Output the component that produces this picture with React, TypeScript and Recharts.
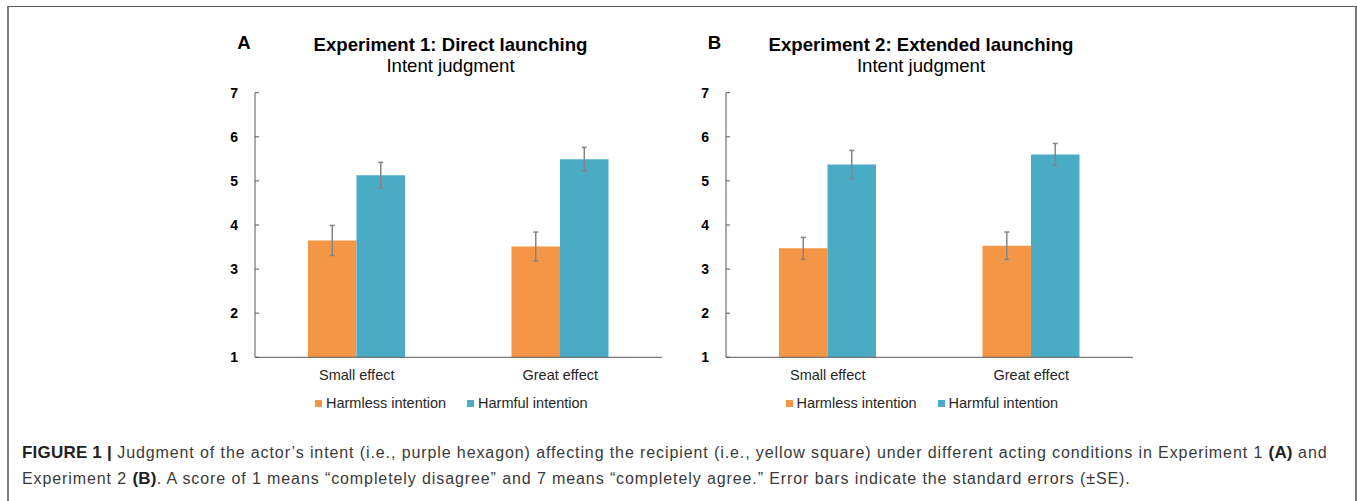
import React from 'react';
import { BarChart, Bar, XAxis, YAxis, ErrorBar, Legend } from 'recharts';

const categories = ['Small effect', 'Great effect'];
const seriesNames = ['Harmless intention', 'Harmful intention'];
const yTicks = [1, 2, 3, 4, 5, 6, 7];

// Experiment 1: Direct launching
const exp1Harmless = [3.65, 3.51];
const exp1HarmlessSe = [0.34, 0.33];
const exp1Harmful = [5.13, 5.49];
const exp1HarmfulSe = [0.29, 0.27];

// Experiment 2: Extended launching
const exp2Harmless = [3.47, 3.53];
const exp2HarmlessSe = [0.25, 0.31];
const exp2Harmful = [5.37, 5.6];
const exp2HarmfulSe = [0.32, 0.25];

const colors = {
  harmless: '#F39645',
  harmful: '#4AABC5',
  axis: '#595959',
  err: '#858585',
  text: '#262626',
};

const font = 'Arial, "Liberation Sans", Helvetica, sans-serif';

const buildRows = (harmless: number[], harmlessSe: number[], harmful: number[], harmfulSe: number[]) =>
  categories.map((name, i) => ({
    name,
    harmless: harmless[i],
    harmlessSe: harmlessSe[i],
    harmful: harmful[i],
    harmfulSe: harmfulSe[i],
  }));

const YTick = (props: any) => {
  const { x, y, payload } = props;
  return (
    <g>
      <line x1={x + 17} x2={x + 21} y1={y} y2={y} stroke={colors.axis} strokeWidth={1} />
      <text x={x} y={y} dy="0.355em" textAnchor="end" fontSize={14} fontWeight="bold" fill="#000" fontFamily={font}>
        {payload.value}
      </text>
    </g>
  );
};

const LegendContent = (props: any) => {
  // keep the series order (harmless first), not alphabetical
  const items = [...(props.payload || [])].sort(
    (a: any, b: any) => seriesNames.indexOf(a.value) - seriesNames.indexOf(b.value)
  );
  return (
    <div style={{ display: 'flex', alignItems: 'center', fontFamily: font, fontSize: 14.5, color: colors.text, whiteSpace: 'nowrap' }}>
      {items.map((entry: any, i: number) => (
        <span key={`leg-${i}`} style={{ display: 'flex', alignItems: 'center', marginRight: 21 }}>
          <span style={{ width: 7, height: 7, background: entry.color, marginRight: 4, display: 'inline-block' }} />
          <span>{entry.value}</span>
        </span>
      ))}
    </div>
  );
};

interface PanelProps {
  axisX: number;
  letter: string;
  title: string;
  data: any[];
}

const Panel: React.FC<PanelProps> = ({ axisX, letter, title, data }) => {
  const left = axisX - 75;
  return (
    <div style={{ position: 'absolute', left, top: 0, width: 500, height: 430 }}>
      <div style={{ position: 'absolute', left: 57.3, top: 32, fontFamily: font, fontWeight: 'bold', fontSize: 18.6, color: '#000' }}>
        {letter}
      </div>
      <div
        style={{
          position: 'absolute',
          left: 270.5,
          top: 34,
          transform: 'translateX(-50%)',
          textAlign: 'center',
          whiteSpace: 'nowrap',
          fontFamily: font,
          fontSize: 18.6,
          lineHeight: '21px',
          color: '#000',
        }}
      >
        <div style={{ fontWeight: 'bold' }}>{title}</div>
        <div>Intent judgment</div>
      </div>
      <BarChart
        width={500}
        height={430}
        data={data}
        margin={{ top: 92.7, right: 18, left: 0, bottom: 42.7 }}
        barGap={0}
        barSize={48.5}
        style={{ position: 'absolute', left: 0, top: 0 }}
      >
        <XAxis
          dataKey="name"
          stroke={colors.axis}
          tickLine={false}
          tickSize={0}
          tickMargin={12}
          height={30}
          tick={{ fontSize: 14.5, fill: colors.text, fontFamily: font }}
        />
        <YAxis
          type="number"
          domain={[1, 7]}
          ticks={yTicks}
          interval={0}
          width={75}
          stroke={colors.axis}
          tickLine={false}
          tickSize={0}
          tickMargin={17}
          tick={<YTick />}
        />
        <Legend
          layout="horizontal"
          verticalAlign="middle"
          align="center"
          wrapperStyle={{ left: 135, top: 395, width: 'auto' }}
          content={<LegendContent />}
        />
        <Bar dataKey="harmless" name={seriesNames[0]} fill={colors.harmless} isAnimationActive={false}>
          <ErrorBar dataKey="harmlessSe" width={2.5} stroke={colors.err} strokeWidth={1.5} />
        </Bar>
        <Bar dataKey="harmful" name={seriesNames[1]} fill={colors.harmful} isAnimationActive={false}>
          <ErrorBar dataKey="harmfulSe" width={2.5} stroke={colors.err} strokeWidth={1.5} />
        </Bar>
      </BarChart>
    </div>
  );
};

const App: React.FC = () => {
  const data1 = buildRows(exp1Harmless, exp1HarmlessSe, exp1Harmful, exp1HarmfulSe);
  const data2 = buildRows(exp2Harmless, exp2HarmlessSe, exp2Harmful, exp2HarmfulSe);
  const bold = { color: '#222', letterSpacing: '0.2px', fontSize: 17 };

  return (
    <div style={{ position: 'absolute', left: 0, top: 0, width: 1357, height: 501, background: '#fff', overflow: 'hidden' }}>
      <div
        style={{
          position: 'absolute',
          left: 7,
          top: 6,
          width: 1346,
          height: 520,
          borderTop: '1.5px solid #5a5a5a',
          borderLeft: '2px solid #7a7a7a',
          borderRight: '2px solid #7a7a7a',
        }}
      />
      <Panel axisX={255} letter="A" title="Experiment 1: Direct launching" data={data1} />
      <Panel axisX={725.5} letter="B" title="Experiment 2: Extended launching" data={data2} />
      <div
        style={{
          position: 'absolute',
          left: 22,
          top: 439.5,
          width: 1320,
          fontFamily: font,
          fontSize: 16,
          letterSpacing: '0.9px',
          lineHeight: '26.5px',
          color: '#3a3a3a',
        }}
      >
        <div style={{ whiteSpace: 'nowrap' }}>
          <b style={bold}>FIGURE 1 |</b> Judgment of the actor’s intent (i.e., purple hexagon) affecting the recipient (i.e., yellow square) under different acting conditions in Experiment 1 <b style={bold}>(A)</b> and
        </div>
        <div style={{ whiteSpace: 'nowrap' }}>
          Experiment 2 <b style={bold}>(B)</b>. A score of 1 means “completely disagree” and 7 means “completely agree.” Error bars indicate the standard errors (±SE).
        </div>
      </div>
    </div>
  );
};

export default App;
